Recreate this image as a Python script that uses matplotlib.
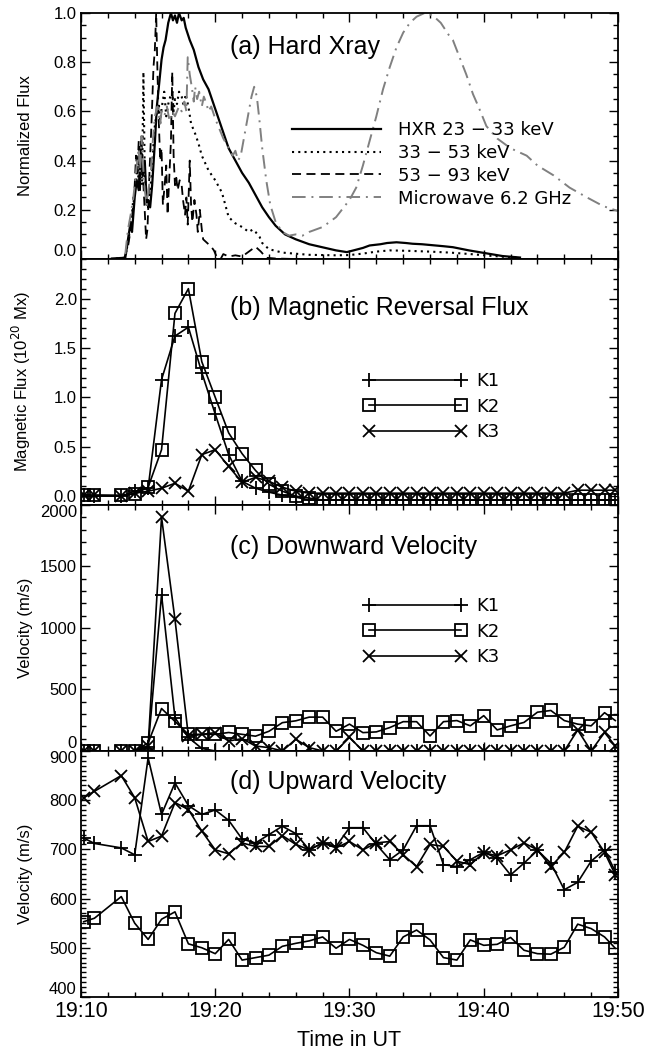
import numpy as np
import matplotlib
matplotlib.use('Agg')
import matplotlib.pyplot as plt
from matplotlib.ticker import MultipleLocator, FixedLocator, FuncFormatter

plt.rcParams['font.family'] = ['Liberation Sans', 'DejaVu Sans']

# ---- panel (a): normalized light curves (time = minutes after 19:00 UT) ----
hxr1_t = [12.3, 13.3, 13.5, 13.7, 13.8, 14.0, 14.15, 14.3, 14.45, 14.6, 14.75, 14.9, 15.0, 15.15,
          15.3, 15.5, 15.65, 15.8, 16.0, 16.15, 16.3, 16.5, 16.7, 16.85, 17.0, 17.15, 17.3, 17.5,
          17.65, 17.8, 18.1, 18.4, 18.75, 19.1, 19.5, 20.0, 20.5, 21.0, 21.5, 22.0, 22.5, 23.0,
          23.5, 24.0, 24.5, 25.2, 26.0, 27.0, 28.2, 29.0, 29.8, 30.3, 31.0, 31.5, 32.3, 32.8,
          33.5, 34.2, 34.7, 35.4, 36.0, 37.0, 37.7, 38.9, 40.2, 41.4, 42.7]
hxr1 = [0.002, 0.005, 0.08, 0.15, 0.11, 0.25, 0.32, 0.28, 0.45, 0.34, 0.40, 0.22, 0.24, 0.21,
        0.30, 0.47, 0.62, 0.70, 0.81, 0.86, 0.89, 0.96, 1.0, 0.97, 0.99, 0.96, 1.0, 0.97,
        0.98, 0.94, 0.89, 0.85, 0.78, 0.73, 0.69, 0.61, 0.53, 0.45, 0.40, 0.35, 0.31, 0.26,
        0.21, 0.17, 0.135, 0.10, 0.08, 0.06, 0.045, 0.035, 0.028, 0.035, 0.045, 0.055, 0.06, 0.065,
        0.068, 0.065, 0.062, 0.06, 0.057, 0.052, 0.048, 0.035, 0.023, 0.012, 0.006]

hxr2_t = [12.6, 13.3, 13.6, 13.8, 13.9, 14.1, 14.2, 14.35, 14.45, 14.55, 14.65, 14.75, 14.85, 15.0,
          15.15, 15.3, 15.45, 15.6, 15.8, 15.9, 16.0, 16.2, 16.35, 16.5, 16.65, 16.8, 16.9, 17.0,
          17.15, 17.3, 17.5, 17.65, 17.8, 18.0, 18.2, 18.5, 18.75, 19.0, 19.5, 20.0, 20.5, 20.8,
          21.0, 21.5, 22.0, 22.5, 22.8, 23.0, 23.3, 23.5, 24.0, 25.0, 27.0, 29.0, 30.0, 31.0,
          32.0, 33.0, 34.5, 36.0, 37.5, 39.0, 40.5, 42.0, 42.7]
hxr2 = [0.002, 0.005, 0.10, 0.18, 0.25, 0.30, 0.38, 0.28, 0.43, 0.30, 0.76, 0.35, 0.28, 0.21,
        0.28, 0.36, 0.52, 0.58, 0.63, 0.55, 0.61, 0.68, 0.58, 0.63, 0.66, 0.68, 0.60, 0.65,
        0.63, 0.68, 0.66, 0.62, 0.67, 0.62, 0.55, 0.51, 0.47, 0.42, 0.36, 0.32, 0.27, 0.21,
        0.17, 0.145, 0.13, 0.11, 0.12, 0.11, 0.09, 0.065, 0.04, 0.026, 0.017, 0.015, 0.016, 0.022,
        0.03, 0.035, 0.033, 0.03, 0.026, 0.02, 0.013, 0.007, 0.004]

hxr3_t = [13.2, 13.5, 13.7, 13.9, 14.0, 14.1, 14.2, 14.3, 14.4, 14.5, 14.6, 14.7, 14.85, 14.95,
          15.1, 15.25, 15.4, 15.5, 15.6, 15.7, 15.8, 15.9, 16.0, 16.1, 16.2, 16.35, 16.45, 16.55,
          16.7, 16.8, 16.9, 17.0, 17.1, 17.2, 17.35, 17.5, 17.6, 17.75, 17.85, 17.95, 18.1, 18.2,
          18.3, 18.45, 18.6, 18.7, 18.85, 19.0, 19.1, 19.3, 19.5, 19.7, 19.9, 20.1, 20.4, 20.6,
          21.0, 21.5, 22.0, 22.5, 23.0, 23.4, 23.8, 24.5, 26.0]
hxr3 = [0.0, 0.05, 0.12, 0.22, 0.30, 0.42, 0.35, 0.48, 0.28, 0.50, 0.35, 0.25, 0.08, 0.12,
        0.35, 0.55, 0.78, 0.85, 1.0, 0.75, 0.55, 0.40, 0.45, 0.22, 0.28, 0.38, 0.18, 0.30,
        0.48, 0.76, 0.42, 0.30, 0.33, 0.28, 0.32, 0.30, 0.24, 0.18, 0.25, 0.14, 0.40, 0.22,
        0.15, 0.24, 0.18, 0.11, 0.20, 0.12, 0.08, 0.07, 0.06, 0.05, 0.035, 0.01, 0.0, 0.02,
        0.01, 0.015, 0.01, 0.03, 0.05, 0.03, 0.005, 0.002, 0.0]

mw_t = [13.3, 13.5, 13.7, 13.9, 14.0, 14.15, 14.3, 14.4, 14.5, 14.6, 14.75, 14.9, 15.0, 15.2,
        15.35, 15.5, 15.7, 15.9, 16.0, 16.2, 16.4, 16.6, 16.8, 17.0, 17.3, 17.5, 17.7, 17.85,
        17.95, 18.1, 18.25, 18.4, 18.5, 18.65, 18.8, 19.0, 19.15, 19.35, 19.5, 19.7, 20.0, 20.3,
        20.6, 21.0, 21.3, 21.5, 21.7, 21.9, 22.1, 22.4, 22.7, 22.9, 23.1, 23.3, 23.5, 23.8,
        24.1, 24.5, 25.0, 25.5, 26.0, 26.5, 27.0, 27.5, 28.0, 29.0, 30.0, 30.5, 31.0, 31.5,
        32.0, 32.5, 33.0, 33.5, 34.0, 34.5, 35.0, 35.6, 36.2, 36.8, 37.4, 37.7, 38.2, 38.7,
        39.2, 39.6, 40.2, 41.0, 42.0, 43.2, 44.0, 45.2, 46.4, 47.7, 48.9, 50.0]
mw = [0.02, 0.12, 0.18, 0.25, 0.30, 0.38, 0.45, 0.35, 0.50, 0.40, 0.28, 0.22, 0.27, 0.35,
      0.48, 0.58, 0.62, 0.55, 0.60, 0.58, 0.62, 0.56, 0.60, 0.58, 0.62, 0.60, 0.64, 0.60,
      0.82, 0.75, 0.70, 0.64, 0.70, 0.65, 0.68, 0.62, 0.66, 0.63, 0.60, 0.62, 0.57, 0.53,
      0.49, 0.45, 0.42, 0.44, 0.40, 0.42, 0.48, 0.57, 0.66, 0.70, 0.66, 0.56, 0.45, 0.32,
      0.22, 0.15, 0.11, 0.095, 0.10, 0.095, 0.11, 0.12, 0.13, 0.17, 0.24, 0.29, 0.38, 0.48,
      0.58, 0.69, 0.78, 0.86, 0.92, 0.96, 0.985, 1.0, 0.99, 0.96, 0.91, 0.89, 0.82, 0.75,
      0.67, 0.62, 0.54, 0.49, 0.45, 0.42, 0.38, 0.34, 0.29, 0.25, 0.215, 0.195]

# ---- panels (b)-(d): kernels K1, K2, K3 sampled about once a minute ----
t_k = [10.2, 11, 13, 14, 15, 16, 17, 18, 19, 20, 21, 22, 23, 24, 25, 26, 27, 28, 29,
       30, 31, 32, 33, 34, 35, 36, 37, 38, 39, 40, 41, 42, 43, 44, 45, 46, 47, 48, 49, 49.8]

# (b) magnetic reversal flux, 1e20 Mx
flux_k1 = [0.01, 0.0, 0.0, 0.05, 0.08, 1.18, 1.62, 1.71, 1.25, 0.83, 0.42, 0.15, 0.08, 0.04, 0.01,
           -0.01, -0.04, -0.04, -0.04, -0.04, -0.04, -0.04, -0.04, -0.04, -0.04, -0.04, -0.04,
           -0.04, -0.04, -0.04, -0.04, -0.04, -0.04, -0.04, -0.04, -0.04, -0.04, -0.04, -0.04, -0.04]
flux_k2 = [0.01, 0.01, 0.01, 0.02, 0.09, 0.47, 1.85, 2.10, 1.36, 1.00, 0.64, 0.43, 0.26, 0.12, 0.05,
           0.0, -0.02, -0.04, -0.04, -0.04, -0.04, -0.04, -0.04, -0.04, -0.04, -0.04, -0.04,
           -0.04, -0.04, -0.04, -0.04, -0.04, -0.04, -0.04, -0.04, -0.04, -0.04, -0.04, -0.04, -0.04]
flux_k3 = [0.01, 0.01, 0.0, 0.03, 0.05, 0.08, 0.13, 0.05, 0.42, 0.47, 0.30, 0.14, 0.19, 0.15, 0.09,
           0.05, 0.03, 0.03, 0.03, 0.03, 0.03, 0.03, 0.03, 0.03, 0.03, 0.03, 0.03, 0.03, 0.03,
           0.03, 0.03, 0.03, 0.03, 0.03, 0.03, 0.03, 0.06, 0.06, 0.06, 0.06]

# (c) downward velocity, m/s
down_k1 = [0, 0, 0, 0, 30, 1270, 270, 110, 20, 0, 0, 0, 0, 0, 0, 0, 0, 0, 0,
           0, 0, 0, 0, 0, 0, 0, 0, 0, 0, 0, 0, 0, 0, 0, 0, 0, 0, 0, 0, 0]
down_k2 = [0, 0, 0, 0, 65, 345, 240, 135, 135, 135, 150, 135, 120, 160, 230, 245, 275, 275, 160,
           218, 149, 155, 190, 238, 238, 122, 238, 247, 204, 287, 171, 204, 232, 315, 329, 247,
           218, 204, 311, 247]
down_k3 = [0, 0, 0, 0, 40, 1900, 1070, 120, 135, 149, 81, 100, 40, 27, 0, 95, 27, 0, 0,
           110, 0, 0, 0, 0, 0, 0, 0, 0, 0, 0, 0, 0, 0, 0, 0, 0, 170, 0, 150, 40]

# (d) upward velocity, m/s
up_k1 = [723, 712, 703, 689, 886, 771, 835, 789, 771, 780, 759, 721, 713, 730, 747, 732, 699, 713, 706,
         744, 744, 710, 679, 699, 748, 748, 669, 665, 679, 694, 682, 648, 672, 698, 672, 618, 633,
         676, 699, 655]
up_k2 = [553, 560, 604, 550, 517, 558, 573, 508, 500, 488, 517, 475, 480, 485, 503, 509, 514, 522, 499,
         517, 505, 490, 483, 522, 536, 516, 480, 475, 516, 505, 507, 521, 495, 488, 487, 501, 548,
         539, 522, 499]
up_k3 = [805, 818, 850, 805, 716, 727, 795, 781, 737, 699, 691, 713, 706, 706, 728, 710, 699, 713, 703,
         716, 699, 713, 716, 689, 665, 710, 706, 676, 669, 693, 687, 699, 713, 699, 665, 694, 747,
         735, 694, 648]

# major y ticks of each panel
yticks_a = [0.0, 0.2, 0.4, 0.6, 0.8, 1.0]
yticks_b = [0.0, 0.5, 1.0, 1.5, 2.0]
yticks_c = [0, 500, 1000, 1500, 2000]
yticks_d = [400, 500, 600, 700, 800, 900]

# ---- figure layout: four stacked panels sharing the time axis ----
fig = plt.figure(figsize=(6.49, 10.55), dpi=100)
left, width, h = 0.1248, 0.8274, 0.2332
bottoms = [0.7545, 0.5213, 0.2882, 0.0550]
axes = [fig.add_axes([left, b, width, h]) for b in bottoms]
ax_a, ax_b, ax_c, ax_d = axes

legend_font = {'family': 'DejaVu Sans', 'size': 13}

# (a) hard X-ray and microwave
ax_a.plot(hxr1_t, hxr1, color='black', lw=1.6, label='HXR 23 \u2212 33 keV')
ax_a.plot(hxr2_t, hxr2, color='black', lw=1.5, ls=(0, (1, 2)), label='33 \u2212 53 keV')
ax_a.plot(hxr3_t, hxr3, color='black', lw=1.3, ls=(0, (5, 3)), label='53 \u2212 93 keV')
ax_a.plot(mw_t, mw, color='0.5', lw=1.4, ls=(0, (7, 3, 1, 3)), label='Microwave 6.2 GHz')
ax_a.set_ylim(0, 1.0)
ax_a.yaxis.set_major_locator(FixedLocator(yticks_a))
ax_a.yaxis.set_minor_locator(MultipleLocator(0.05))
ax_a.yaxis.set_major_formatter(FuncFormatter(lambda v, p: '%.1f' % v))
ax_a.set_ylabel('Normalized Flux', fontsize=12)
ax_a.legend(loc='upper left', bbox_to_anchor=(0.393, 0.561), frameon=False, prop=legend_font,
            handlelength=4.9, handletextpad=0.95, labelspacing=0.27, borderpad=0, borderaxespad=0)
ax_a.text(0.277, 0.86, '(a) Hard Xray', transform=ax_a.transAxes, fontsize=18, va='center')


def plot_kernels(ax, k1, k2, k3):
    ax.plot(t_k, k1, color='black', lw=1.2, marker='+', ms=10, mew=1.3, label='K1')
    ax.plot(t_k, k2, color='black', lw=1.2, marker='s', ms=9, mew=1.3, mfc='none', label='K2')
    ax.plot(t_k, k3, color='black', lw=1.2, marker='x', ms=9, mew=1.3, label='K3')


# (b) magnetic flux
plot_kernels(ax_b, flux_k1, flux_k2, flux_k3)
ax_b.set_ylim(-0.09, 2.4)
ax_b.yaxis.set_major_locator(FixedLocator(yticks_b))
ax_b.yaxis.set_minor_locator(MultipleLocator(0.1))
ax_b.yaxis.set_major_formatter(FuncFormatter(lambda v, p: '%.1f' % v))
ax_b.set_ylabel('Magnetic Flux (10$^{20}$ Mx)', fontsize=12)
ax_b.text(0.277, 0.80, '(b) Magnetic Reversal Flux', transform=ax_b.transAxes, fontsize=18, va='center')
ax_b.legend(loc='upper left', bbox_to_anchor=(0.527, 0.54), frameon=False, prop=legend_font,
            numpoints=2, handlelength=5.7, handletextpad=0.5, labelspacing=0.42,
            borderpad=0, borderaxespad=0)

# (c) downward velocity
plot_kernels(ax_c, down_k1, down_k2, down_k3)
ax_c.set_ylim(0, 2000)
ax_c.yaxis.set_major_locator(FixedLocator(yticks_c))
ax_c.yaxis.set_minor_locator(MultipleLocator(100))
ax_c.set_ylabel('Velocity (m/s)', fontsize=12)
ax_c.text(0.277, 0.83, '(c) Downward Velocity', transform=ax_c.transAxes, fontsize=18, va='center')
ax_c.legend(loc='upper left', bbox_to_anchor=(0.527, 0.625), frameon=False, prop=legend_font,
            numpoints=2, handlelength=5.7, handletextpad=0.5, labelspacing=0.42,
            borderpad=0, borderaxespad=0)

# (d) upward velocity
plot_kernels(ax_d, up_k1, up_k2, up_k3)
ax_d.set_ylim(400, 900)
ax_d.yaxis.set_major_locator(FixedLocator(yticks_d))
ax_d.yaxis.set_minor_locator(MultipleLocator(10))
ax_d.set_ylabel('Velocity (m/s)', fontsize=12)
ax_d.text(0.277, 0.875, '(d) Upward Velocity', transform=ax_d.transAxes, fontsize=18, va='center')

# shared time axis and IDL-like inward ticks on all sides
for ax in axes:
    ax.set_xlim(10, 50)
    ax.xaxis.set_major_locator(MultipleLocator(10))
    ax.xaxis.set_minor_locator(MultipleLocator(2))
    ax.tick_params(which='both', direction='in', top=True, right=True, width=1.0)
    ax.tick_params(which='major', length=6.5)
    ax.tick_params(which='minor', length=3.5)
    ax.tick_params(axis='y', labelsize=12, pad=3)
    ax.yaxis.set_label_coords(-0.09, 0.5)
    for s in ax.spines.values():
        s.set_linewidth(1.3)
    if ax is not ax_d:
        ax.tick_params(axis='x', labelbottom=False)

# nudge the labels that meet at panel borders, as in the original
ax_a.yaxis.get_major_ticks()[0].label1.set_va('bottom')
ax_c.yaxis.get_major_ticks()[0].label1.set_va('bottom')
ax_c.yaxis.get_major_ticks()[-1].label1.set_va('top')
ax_d.yaxis.get_major_ticks()[0].label1.set_va('bottom')
ax_d.yaxis.get_major_ticks()[-1].label1.set_va('top')

ax_d.xaxis.set_major_formatter(FuncFormatter(lambda v, p: '19:%02d' % v))
ax_d.tick_params(axis='x', labelsize=15.5, pad=3)
ax_d.set_xlabel('Time in UT', fontsize=15.5, labelpad=6)

fig.savefig('out.png', dpi=100)
